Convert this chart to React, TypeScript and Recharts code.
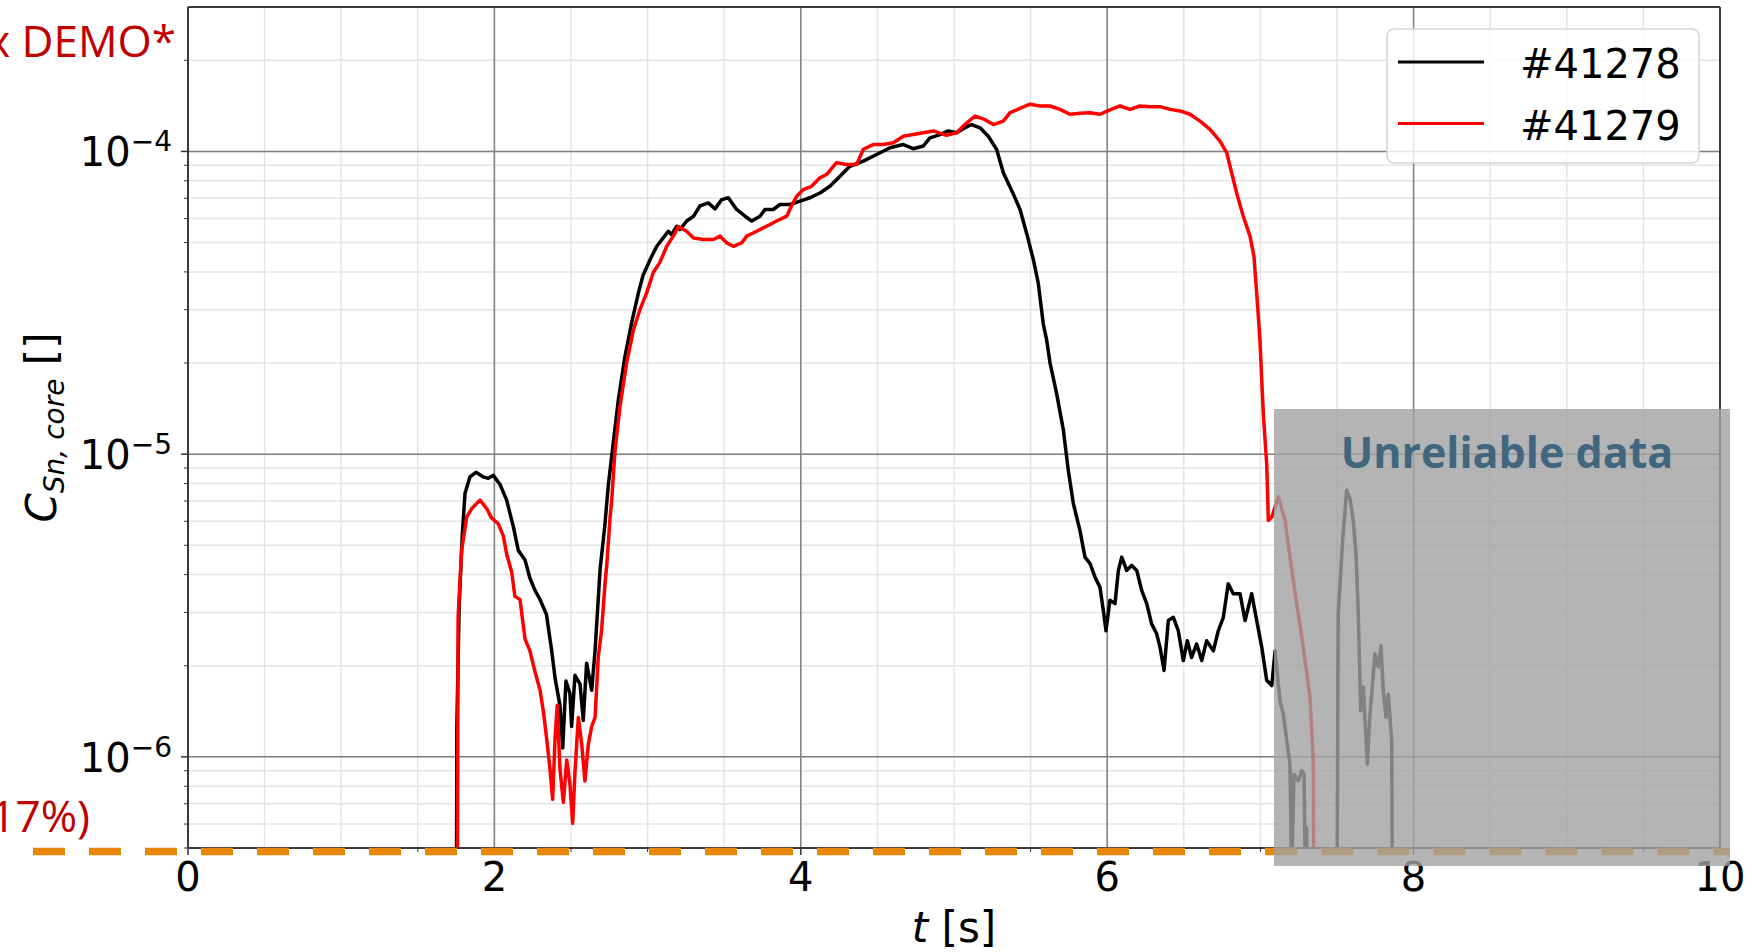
import {
  CartesianGrid,
  Legend,
  Line,
  LineChart,
  ReferenceLine,
  XAxis,
  YAxis,
} from 'recharts'

// plot box in page pixels
const W = 1759
const H = 952
const PLOT_LEFT = 188
const PLOT_TOP = 7
const PLOT_RIGHT = 1720
const PLOT_BOTTOM = 848

const xTicks = [0, 0.5, 1, 1.5, 2, 2.5, 3, 3.5, 4, 4.5, 5, 5.5, 6, 6.5, 7, 7.5, 8, 8.5, 9, 9.5, 10]
const xMajor = [2, 4, 6, 8]
const yTicks = [
  5e-7, 6e-7, 7e-7, 8e-7, 9e-7,
  1e-6, 2e-6, 3e-6, 4e-6, 5e-6, 6e-6, 7e-6, 8e-6, 9e-6,
  1e-5, 2e-5, 3e-5, 4e-5, 5e-5, 6e-5, 7e-5, 8e-5, 9e-5,
  1e-4, 2e-4,
]
const yMajor = [1e-6, 1e-5, 1e-4]
const yDomain: [number, number] = [5e-7, 3e-4]

// [t (s), C_Sn,core]; 1e-8 = no signal (below the axis)
const shot41278: [number, number][] = [
  [1.745, 1e-8], [1.755, 1.26e-6], [1.77, 3.16e-6], [1.79, 5.37e-6], [1.808, 7.41e-6],
  [1.84, 8.41e-6], [1.88, 8.71e-6], [1.928, 8.41e-6], [1.96, 8.32e-6], [1.993, 8.51e-6],
  [2.037, 7.94e-6], [2.08, 7.05e-6], [2.124, 5.75e-6], [2.156, 4.81e-6], [2.2, 4.47e-6],
  [2.232, 3.89e-6], [2.265, 3.55e-6], [2.298, 3.31e-6], [2.34, 2.95e-6], [2.374, 2.24e-6],
  [2.396, 1.82e-6], [2.428, 1.48e-6], [2.446, 1.07e-6], [2.467, 1.78e-6], [2.493, 1.62e-6],
  [2.504, 1.26e-6], [2.526, 1.86e-6], [2.559, 1.74e-6], [2.58, 1.32e-6], [2.602, 2.04e-6],
  [2.635, 1.66e-6], [2.657, 2.24e-6], [2.69, 4.17e-6], [2.72, 5.75e-6], [2.744, 7.94e-6],
  [2.776, 1.09e-5], [2.809, 1.51e-5], [2.852, 2.1e-5], [2.896, 2.72e-5], [2.94, 3.41e-5],
  [2.97, 3.89e-5], [3.016, 4.39e-5], [3.06, 4.86e-5], [3.103, 5.19e-5], [3.135, 5.45e-5],
  [3.157, 5.31e-5], [3.19, 5.66e-5], [3.211, 5.52e-5], [3.255, 5.89e-5], [3.3, 6.11e-5],
  [3.342, 6.61e-5], [3.396, 6.76e-5], [3.44, 6.46e-5], [3.484, 6.93e-5], [3.527, 7.03e-5],
  [3.581, 6.43e-5], [3.636, 6.11e-5], [3.68, 5.89e-5], [3.734, 6.11e-5], [3.766, 6.43e-5],
  [3.82, 6.43e-5], [3.864, 6.68e-5], [3.93, 6.68e-5], [3.995, 6.85e-5], [4.06, 7.03e-5],
  [4.125, 7.29e-5], [4.19, 7.67e-5], [4.256, 8.28e-5], [4.32, 8.93e-5], [4.408, 9.29e-5],
  [4.495, 9.77e-5], [4.582, 1.028e-4], [4.669, 1.054e-4], [4.734, 1.021e-4], [4.8, 1.042e-4],
  [4.843, 1.109e-4], [4.909, 1.137e-4], [4.963, 1.169e-4], [5.017, 1.153e-4], [5.06, 1.189e-4],
  [5.115, 1.227e-4], [5.17, 1.197e-4], [5.224, 1.122e-4], [5.278, 1.016e-4], [5.322, 8.51e-5],
  [5.387, 7.24e-5], [5.431, 6.43e-5], [5.474, 5.37e-5], [5.518, 4.39e-5], [5.55, 3.67e-5],
  [5.583, 2.69e-5], [5.605, 2.38e-5], [5.627, 2.0e-5], [5.67, 1.585e-5], [5.714, 1.2e-5],
  [5.746, 8.85e-6], [5.779, 6.87e-6], [5.822, 5.6e-6], [5.855, 4.57e-6], [5.888, 4.35e-6],
  [5.92, 3.93e-6], [5.953, 3.63e-6], [5.975, 3.04e-6], [5.992, 2.61e-6], [6.018, 3.29e-6],
  [6.051, 3.21e-6], [6.073, 4.13e-6], [6.095, 4.57e-6], [6.127, 4.13e-6], [6.16, 4.29e-6],
  [6.193, 4.13e-6], [6.225, 3.55e-6], [6.258, 3.21e-6], [6.29, 2.75e-6], [6.323, 2.55e-6],
  [6.345, 2.3e-6], [6.371, 1.93e-6], [6.399, 2.82e-6], [6.432, 2.89e-6], [6.464, 2.61e-6],
  [6.497, 2.08e-6], [6.523, 2.42e-6], [6.551, 2.13e-6], [6.584, 2.36e-6], [6.617, 2.08e-6],
  [6.649, 2.42e-6], [6.693, 2.24e-6], [6.725, 2.61e-6], [6.758, 2.89e-6], [6.79, 3.73e-6],
  [6.823, 3.46e-6], [6.867, 3.46e-6], [6.9, 2.82e-6], [6.943, 3.46e-6], [6.976, 2.82e-6],
  [7.009, 2.3e-6], [7.041, 1.79e-6], [7.074, 1.72e-6], [7.096, 2.24e-6], [7.128, 1.53e-6],
  [7.15, 1.38e-6], [7.172, 1.13e-6], [7.193, 9.46e-7], [7.204, 4e-7], [7.219, 8.77e-7],
  [7.248, 8.32e-7], [7.27, 9.0e-7], [7.285, 8.77e-7], [7.293, 4e-7], [7.302, 5.83e-7],
  [7.315, 1e-8], [7.487, 1e-8], [7.508, 2.96e-6], [7.537, 5.19e-6], [7.563, 7.6e-6],
  [7.585, 7.13e-6], [7.606, 6.04e-6], [7.624, 4.69e-6], [7.639, 2.96e-6], [7.655, 1.42e-6],
  [7.672, 1.7e-6], [7.698, 9.46e-7], [7.715, 1.38e-6], [7.748, 2.19e-6], [7.77, 1.98e-6],
  [7.787, 2.33e-6], [7.802, 1.66e-6], [7.82, 1.35e-6], [7.835, 1.61e-6], [7.857, 1.13e-6],
  [7.875, 1e-8],
]

const shot41279: [number, number][] = [
  [1.75, 1e-8], [1.763, 2.88e-6], [1.786, 4.81e-6], [1.819, 6.19e-6], [1.852, 6.61e-6],
  [1.906, 7.05e-6], [1.95, 6.61e-6], [1.98, 6.17e-6], [2.025, 5.89e-6], [2.058, 5.37e-6],
  [2.08, 4.68e-6], [2.113, 4.07e-6], [2.134, 3.39e-6], [2.167, 3.31e-6], [2.2, 2.45e-6],
  [2.232, 2.24e-6], [2.265, 1.91e-6], [2.298, 1.66e-6], [2.32, 1.41e-6], [2.341, 1.15e-6],
  [2.363, 9.12e-7], [2.38, 7.24e-7], [2.396, 1.15e-6], [2.41, 1.48e-6], [2.428, 9.12e-7],
  [2.45, 7.08e-7], [2.472, 9.77e-7], [2.493, 8.13e-7], [2.511, 6.03e-7], [2.526, 8.91e-7],
  [2.548, 1.35e-6], [2.57, 1.1e-6], [2.591, 8.32e-7], [2.613, 1.1e-6], [2.635, 1.26e-6],
  [2.657, 1.35e-6], [2.678, 2.14e-6], [2.7, 2.63e-6], [2.722, 3.72e-6], [2.733, 4.27e-6],
  [2.755, 6.17e-6], [2.766, 7.08e-6], [2.787, 1.023e-5], [2.82, 1.44e-5], [2.863, 2.0e-5],
  [2.907, 2.57e-5], [2.95, 3.0e-5], [2.994, 3.41e-5], [3.037, 3.98e-5], [3.08, 4.3e-5],
  [3.125, 4.86e-5], [3.168, 5.25e-5], [3.2, 5.65e-5], [3.255, 5.45e-5], [3.3, 5.18e-5],
  [3.364, 5.12e-5], [3.43, 5.12e-5], [3.473, 5.25e-5], [3.516, 4.99e-5], [3.56, 4.86e-5],
  [3.614, 4.99e-5], [3.647, 5.25e-5], [3.712, 5.45e-5], [3.777, 5.66e-5], [3.842, 5.89e-5],
  [3.908, 6.11e-5], [3.94, 6.61e-5], [3.973, 7.11e-5], [4.016, 7.48e-5], [4.07, 7.67e-5],
  [4.125, 8.18e-5], [4.168, 8.39e-5], [4.233, 9.18e-5], [4.298, 9.06e-5], [4.364, 9.06e-5],
  [4.408, 1.016e-4], [4.473, 1.054e-4], [4.538, 1.054e-4], [4.604, 1.069e-4], [4.669, 1.122e-4],
  [4.734, 1.137e-4], [4.8, 1.153e-4], [4.865, 1.169e-4], [4.951, 1.13e-4], [5.017, 1.153e-4],
  [5.071, 1.227e-4], [5.137, 1.309e-4], [5.2, 1.276e-4], [5.257, 1.227e-4], [5.322, 1.259e-4],
  [5.366, 1.343e-4], [5.431, 1.387e-4], [5.496, 1.432e-4], [5.561, 1.413e-4], [5.627, 1.413e-4],
  [5.692, 1.377e-4], [5.757, 1.327e-4], [5.822, 1.337e-4], [5.888, 1.343e-4], [5.953, 1.327e-4],
  [6.018, 1.371e-4], [6.084, 1.413e-4], [6.149, 1.377e-4], [6.214, 1.413e-4], [6.279, 1.406e-4],
  [6.345, 1.406e-4], [6.41, 1.377e-4], [6.475, 1.361e-4], [6.54, 1.327e-4], [6.606, 1.259e-4],
  [6.671, 1.183e-4], [6.736, 1.081e-4], [6.78, 9.91e-5], [6.812, 8.51e-5], [6.845, 7.29e-5],
  [6.888, 6.11e-5], [6.932, 5.25e-5], [6.958, 4.5e-5], [6.971, 3.67e-5], [6.982, 3.08e-5],
  [6.997, 2.38e-5], [7.019, 1.36e-5], [7.041, 9.31e-6], [7.052, 6.04e-6], [7.074, 6.19e-6],
  [7.117, 7.23e-6], [7.161, 6.04e-6], [7.193, 4.57e-6], [7.23, 3.39e-6], [7.28, 2.3e-6],
  [7.324, 1.57e-6], [7.346, 9.46e-7], [7.358, 1e-8],
]

const toRows = (pts: [number, number][]) => pts.map(([t, c]) => ({ t, c }))

const isDecade = (v: number) => {
  const lg = Math.log10(v)
  return Math.abs(lg - Math.round(lg)) < 1e-6
}

function YTick({ x, y, payload }: any) {
  const v = payload.value
  const major = isDecade(v)
  const exp = Math.round(Math.log10(v))
  return (
    <g>
      <line x1={x - (major ? 7 : 4)} x2={x} y1={y} y2={y} stroke='#333' strokeWidth={major ? 1.5 : 1} />
      {major && (
        <text x={x - 16} y={y + 15} textAnchor='end' fontFamily='DejaVu Sans' fontSize={40} fill='#000'>
          10<tspan dy={-15} fontSize={28}>{'\u2212' + -exp}</tspan>
        </text>
      )}
    </g>
  )
}

function XTick({ x, y, payload }: any) {
  const t = payload.value
  const major = t % 2 === 0
  return (
    <g>
      <line x1={x} x2={x} y1={y} y2={y + (major ? 7 : 4)} stroke='#333' strokeWidth={major ? 1.5 : 1} />
      {major && (
        <text x={x} y={y + 43} textAnchor='middle' fontFamily='DejaVu Sans' fontSize={40} fill='#000'>
          {t}
        </text>
      )}
    </g>
  )
}

function LegendBox({ payload }: any) {
  const items = payload ?? []
  return (
    <svg width={314} height={136} style={{ display: 'block' }}>
      <rect x={1} y={1} width={312} height={134} rx={7} fill='#fff' fillOpacity={0.8} stroke='#d6d6d6' strokeWidth={1.5} />
      {items.map((entry: any, i: number) => (
        <g key={entry.value}>
          <line x1={12} x2={98} y1={34 + i * 61.6} y2={34 + i * 61.6} stroke={entry.color} strokeWidth={3} />
          <text x={134} y={50 + i * 61.7} fontFamily='DejaVu Sans' fontSize={40} fill='#000'>
            {entry.value}
          </text>
        </g>
      ))}
    </svg>
  )
}

export default function App() {
  const midX = (PLOT_LEFT + PLOT_RIGHT) / 2
  const midY = (PLOT_TOP + PLOT_BOTTOM) / 2
  return (
    <div style={{ position: 'absolute', left: 0, top: 0, width: W, height: H, background: '#fff' }}>
      <LineChart
        width={W}
        height={H}
        margin={{ top: PLOT_TOP, right: W - PLOT_RIGHT, bottom: 0, left: 0 }}
      >
        <CartesianGrid stroke='#e4e4e4' strokeWidth={1.5} />
        <CartesianGrid
          stroke='#808080'
          strokeWidth={1.5}
          horizontalValues={yMajor}
          verticalValues={xMajor}
        />
        <XAxis
          type='number'
          dataKey='t'
          domain={[0, 10]}
          ticks={xTicks}
          interval={0}
          allowDataOverflow
          height={H - PLOT_BOTTOM}
          tickSize={0}
          tickMargin={0}
          tickLine={false}
          axisLine={false}
          tick={(p: any) => <XTick {...p} />}
        />
        <YAxis
          type='number'
          scale='log'
          domain={yDomain}
          ticks={yTicks}
          interval={0}
          allowDataOverflow
          width={PLOT_LEFT}
          tickSize={0}
          tickMargin={0}
          tickLine={false}
          axisLine={false}
          tick={(p: any) => <YTick {...p} />}
        />
        <Line
          data={toRows(shot41278)}
          dataKey='c'
          name='#41278'
          type='linear'
          stroke='#000000'
          strokeWidth={3.5}
          strokeLinejoin='round'
          dot={false}
          isAnimationActive={false}
        />
        <Line
          data={toRows(shot41279)}
          dataKey='c'
          name='#41279'
          type='linear'
          stroke='#ff0000'
          strokeWidth={3.5}
          strokeLinejoin='round'
          dot={false}
          isAnimationActive={false}
        />
        <ReferenceLine x={0} stroke='#3a3a3a' strokeWidth={2} />
        <ReferenceLine x={10} stroke='#3a3a3a' strokeWidth={2} />
        <ReferenceLine y={yDomain[0]} stroke='#3a3a3a' strokeWidth={2} />
        <ReferenceLine y={yDomain[1]} stroke='#3a3a3a' strokeWidth={2} />
        <Legend
          layout='horizontal'
          verticalAlign='middle'
          align='center'
          content={<LegendBox />}
          wrapperStyle={{ left: 1386, top: 28, width: 314, height: 136 }}
        />
      </LineChart>

      <svg
        width={W}
        height={H}
        style={{ position: 'absolute', left: 0, top: 0, pointerEvents: 'none' }}
      >
        <line x1={33} x2={1730} y1={851.5} y2={851.5} stroke='#e8870a' strokeWidth={7.5} strokeDasharray='32 24' />
        <rect x={1274} y={409} width={456} height={457} fill='#a1a1a1' fillOpacity={0.8} />
        <text x={1507} y={468} textAnchor='middle' fontFamily='Open Sans' fontWeight={700} fontSize={43} fill='#41667f'>
          Unreliable data
        </text>
        <text x={176} y={57} textAnchor='end' fontFamily='Open Sans' fontSize={44} fill='#c00000'>
          x DEMO*
        </text>
        <text x={90} y={832} textAnchor='end' fontFamily='Open Sans' fontSize={44} fill='#c00000'>
          17%)
        </text>
        <text
          x={56}
          y={midY}
          transform={`rotate(-90 56 ${midY})`}
          textAnchor='middle'
          fontFamily='DejaVu Sans'
          fontSize={42}
          fill='#000'
        >
          <tspan fontStyle='italic'>C</tspan>
          <tspan fontStyle='italic' fontSize={28} dy={8}>Sn, core</tspan>
          <tspan dy={-8}>{' []'}</tspan>
        </text>
        <text x={midX} y={942} textAnchor='middle' fontFamily='DejaVu Sans' fontSize={42} fill='#000'>
          <tspan fontStyle='italic'>t</tspan>
          <tspan>{' [s]'}</tspan>
        </text>
      </svg>
    </div>
  )
}
